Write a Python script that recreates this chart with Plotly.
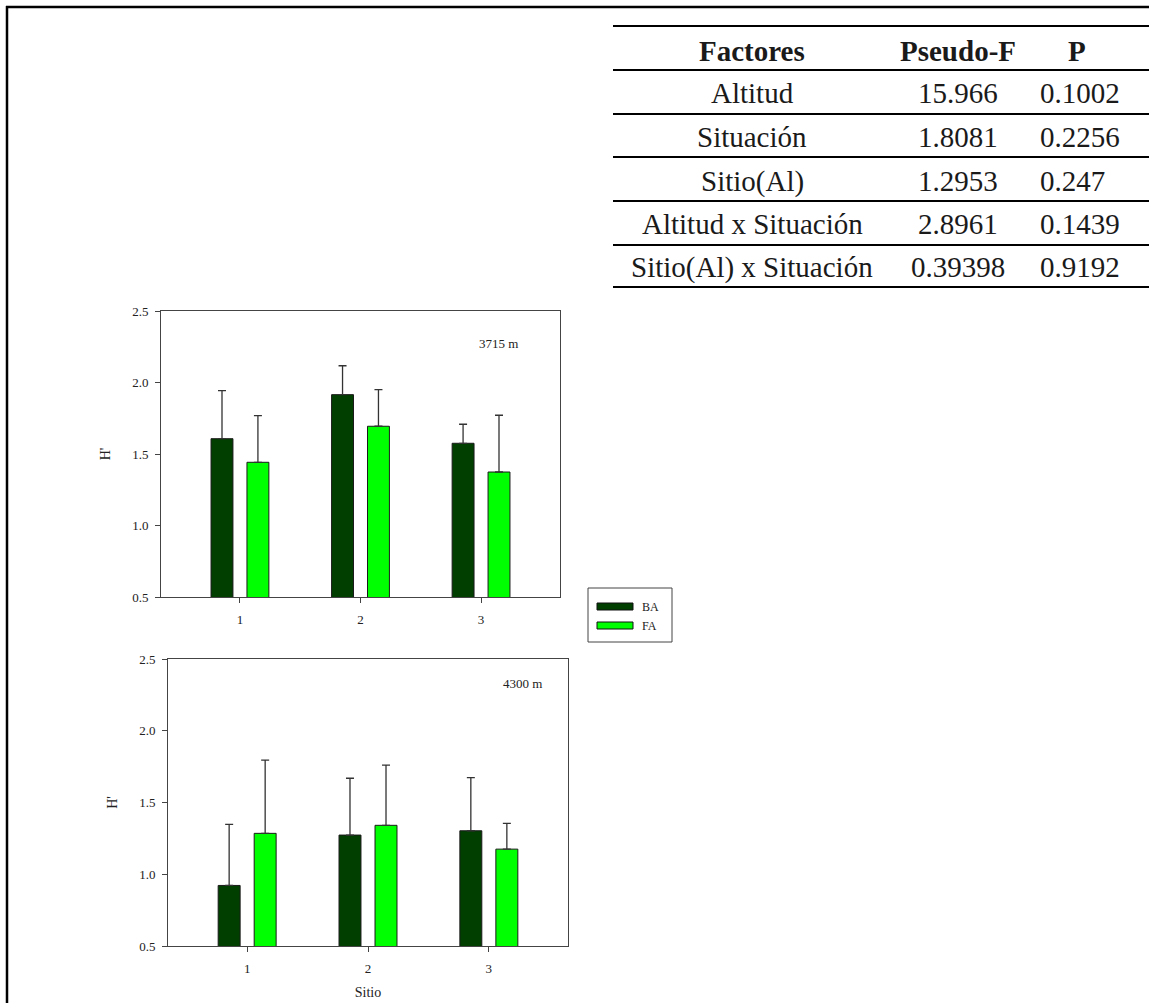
import plotly.graph_objects as go

W, H = 1149, 1003

# ---- data ----
sites = [1, 2, 3]
ba_3715 = [1.607, 1.915, 1.575]
fa_3715 = [1.442, 1.694, 1.374]
ba_3715_err = [0.336, 0.202, 0.133]
fa_3715_err = [0.326, 0.256, 0.397]

ba_4300 = [0.922, 1.273, 1.303]
fa_4300 = [1.285, 1.341, 1.175]
ba_4300_err = [0.426, 0.396, 0.370]
fa_4300_err = [0.510, 0.420, 0.180]

y_ticks = [0.5, 1.0, 1.5, 2.0, 2.5]

table_header = ["Factores", "Pseudo-F", "P"]
factores = ["Altitud", "Situación", "Sitio(Al)", "Altitud x Situación", "Sitio(Al) x Situación"]
pseudo_f = ["15.966", "1.8081", "1.2953", "2.8961", "0.39398"]
p_values = ["0.1002", "0.2256", "0.247", "0.1439", "0.9192"]

DARK = "#003f00"
LIGHT = "#00ff00"
SERIF = "Liberation Serif, Times New Roman, serif"


def px(x):
    return x / W


def py(y):
    return 1 - y / H


fig = go.Figure()


def add_bars(xa, ya, ba, fa, ba_err, fa_err):
    for vals, err, color, name in ((ba, ba_err, DARK, "BA"), (fa, fa_err, LIGHT, "FA")):
        fig.add_trace(go.Bar(
            x=sites, y=vals, base=0, name=name, xaxis=xa, yaxis=ya,
            marker=dict(color=color, line=dict(color="#1a1a1a", width=1)),
            error_y=dict(type="data", symmetric=False, array=err,
                         arrayminus=[0] * len(err), color="#333333",
                         thickness=1.3, width=4),
            showlegend=False,
        ))


add_bars("x", "y", ba_3715, fa_3715, ba_3715_err, fa_3715_err)
add_bars("x2", "y2", ba_4300, fa_4300, ba_4300_err, fa_4300_err)

axis_common = dict(
    showgrid=False, zeroline=False, showline=True, mirror=True, automargin=False,
    linecolor="#444444", linewidth=1, ticks="outside", ticklen=5,
    tickcolor="#444444", tickfont=dict(family=SERIF, size=13, color="#222222"),
)
x_common = dict(range=[0.345, 3.655], tickvals=sites, ticklabelstandoff=5, **axis_common)
y_common = dict(range=[0.5, 2.5], tickvals=y_ticks, tickformat=".1f",
                ticklabelstandoff=4, **axis_common)
title_font = dict(family=SERIF, size=14, color="#222222")

fig.update_layout(
    width=W, height=H,
    margin=dict(l=0, r=0, t=0, b=0, pad=0, autoexpand=False),
    paper_bgcolor="white", plot_bgcolor="white",
    barmode="group", bargap=0.404, bargroupgap=0.39,
    font=dict(family=SERIF, color="#222222"),
    xaxis=dict(domain=[px(161), px(560)], anchor="y", **x_common),
    yaxis=dict(domain=[py(597), py(311)], anchor="x",
               title=dict(text="H'", standoff=18, font=title_font), **y_common),
    xaxis2=dict(domain=[px(168), px(568)], anchor="y2",
                title=dict(text="Sitio", standoff=12, font=title_font), **x_common),
    yaxis2=dict(domain=[py(946), py(659)], anchor="x2",
                title=dict(text="H'", standoff=18, font=title_font), **y_common),
)

shapes = []
annotations = []

# altitude labels inside each panel
label_font = dict(family=SERIF, size=13, color="#222222")
annotations.append(dict(text="3715 m", x=px(498), y=py(343), xref="paper", yref="paper",
                        showarrow=False, font=label_font))
annotations.append(dict(text="4300 m", x=px(522), y=py(693), xref="paper", yref="paper",
                        showarrow=False, font=label_font))

# legend box with wide colour swatches
shapes.append(dict(type="rect", xref="paper", yref="paper",
                   x0=px(588), x1=px(672), y0=py(642), y1=py(588),
                   line=dict(color="#444444", width=1), fillcolor="white"))
for i, (name, color) in enumerate((("BA", DARK), ("FA", LIGHT))):
    yc = 606.5 + i * 19
    shapes.append(dict(type="rect", xref="paper", yref="paper",
                       x0=px(597), x1=px(633), y0=py(yc + 3.5), y1=py(yc - 3.5),
                       line=dict(color="#111111", width=1), fillcolor=color))
    annotations.append(dict(text=name, x=px(640), y=py(yc), xref="paper", yref="paper",
                            xanchor="left", yanchor="middle", showarrow=False,
                            font=dict(family=SERIF, size=12, color="#222222")))

# outer frame (top and left edges)
shapes.append(dict(type="line", xref="paper", yref="paper",
                   x0=px(6), x1=px(W), y0=py(7), y1=py(7),
                   line=dict(color="black", width=2.5)))
shapes.append(dict(type="line", xref="paper", yref="paper",
                   x0=px(7), x1=px(7), y0=py(6), y1=py(H),
                   line=dict(color="black", width=2.5)))

# PERMANOVA results table
rule_ys = [26, 70, 114, 157, 201, 245, 287]
for ry in rule_ys:
    shapes.append(dict(type="line", xref="paper", yref="paper",
                       x0=px(613), x1=px(W), y0=py(ry), y1=py(ry),
                       line=dict(color="black", width=2)))

row_ys = [51, 93, 137, 181, 224, 267]
col_x = [752, 958]
tfont = dict(family=SERIF, size=29, color="#1a1a1a")
for j, head in enumerate(table_header):
    xpos = col_x[j] if j < 2 else 1077
    annotations.append(dict(text="<b>%s</b>" % head, x=px(xpos), y=py(row_ys[0]),
                            xref="paper", yref="paper", xanchor="center",
                            yanchor="middle", showarrow=False, font=tfont))
for i in range(len(factores)):
    yy = py(row_ys[i + 1])
    annotations.append(dict(text=factores[i], x=px(col_x[0]), y=yy, xref="paper",
                            yref="paper", xanchor="center", yanchor="middle",
                            showarrow=False, font=tfont))
    annotations.append(dict(text=pseudo_f[i], x=px(col_x[1]), y=yy, xref="paper",
                            yref="paper", xanchor="center", yanchor="middle",
                            showarrow=False, font=tfont))
    annotations.append(dict(text=p_values[i], x=px(1038), y=yy, xref="paper",
                            yref="paper", xanchor="left", yanchor="middle",
                            showarrow=False, font=tfont))

fig.update_layout(shapes=shapes, annotations=annotations)

fig.write_html("out.html")
